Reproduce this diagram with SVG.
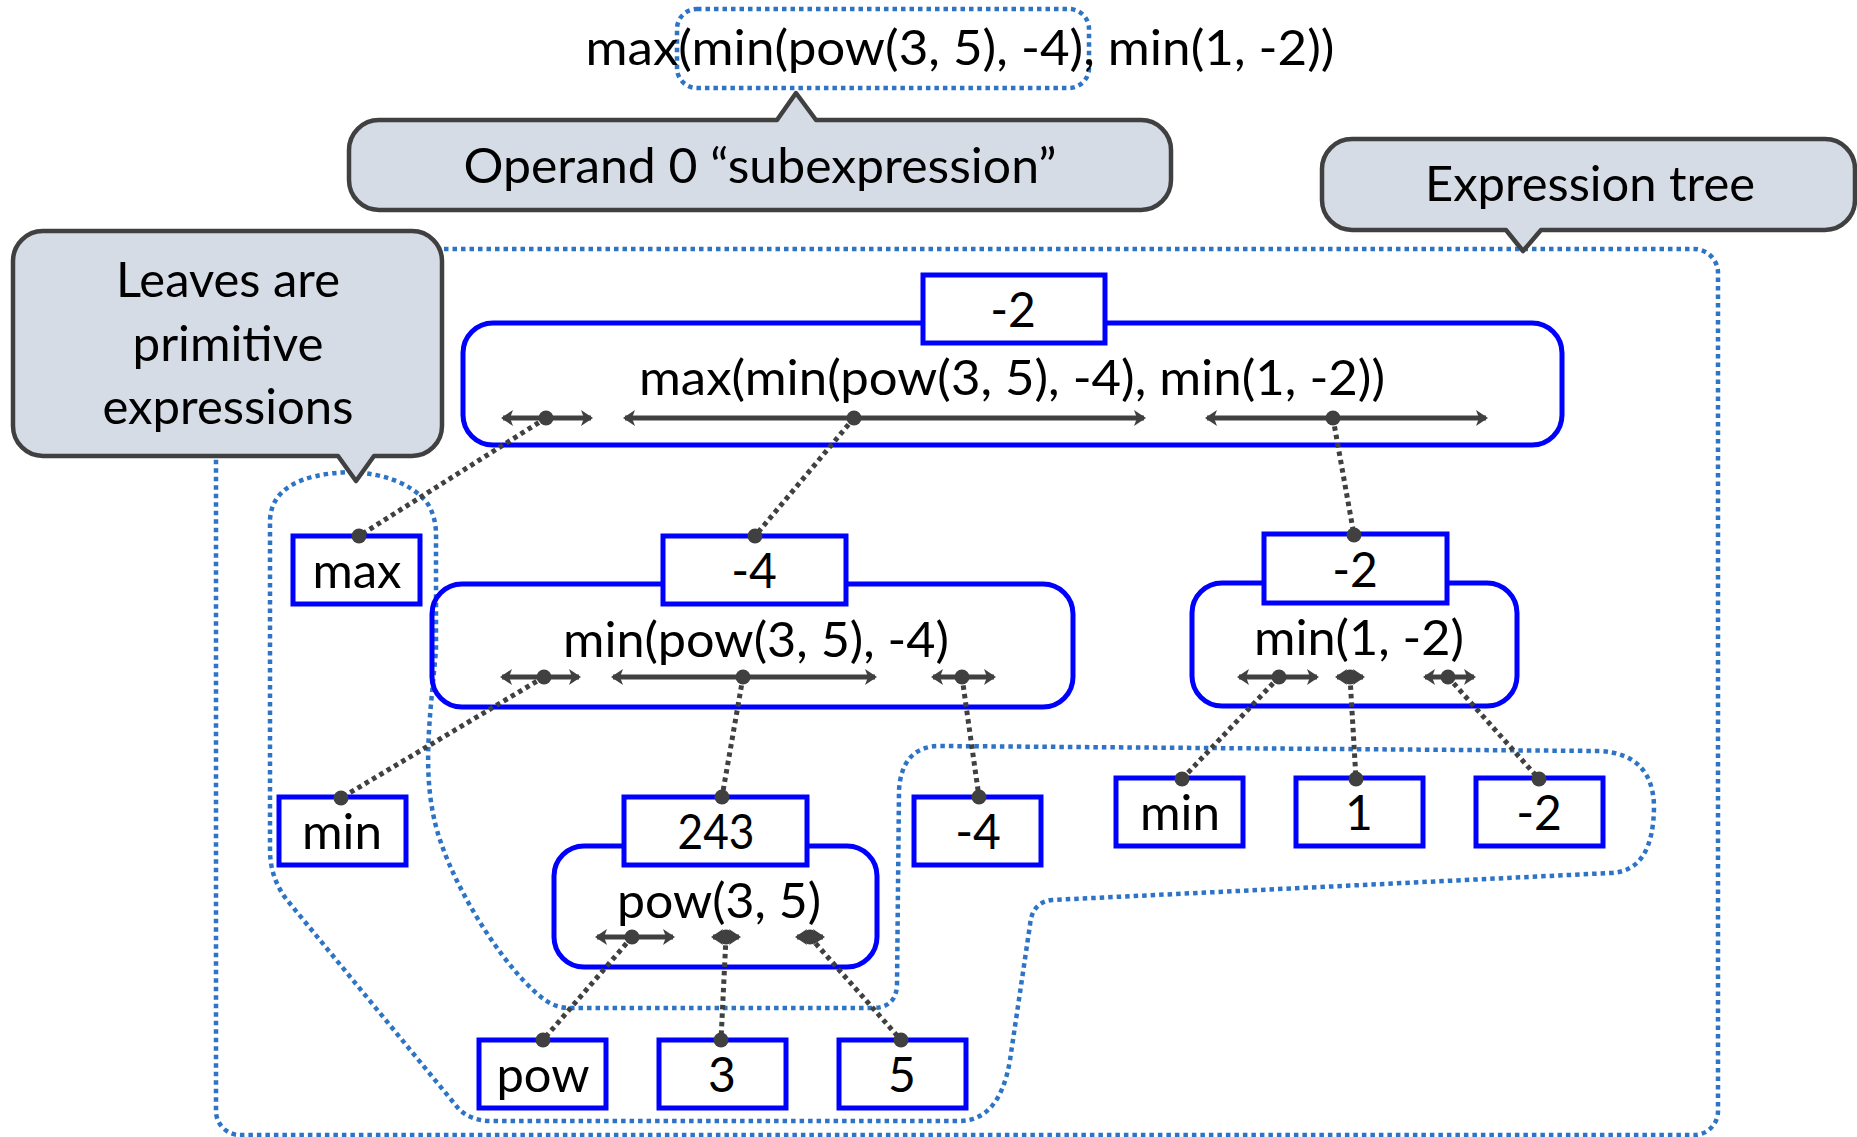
<svg xmlns="http://www.w3.org/2000/svg" width="1857" height="1137" viewBox="0 0 1857 1137">
<defs>
<style>
text { font-family: Lato, "Open Sans", "Liberation Sans", sans-serif; font-size: 48px; fill: #000; text-anchor: middle; }
.region { fill: none; stroke: #2E74C6; stroke-width: 4.5; stroke-dasharray: 4.5 4; }
.callout { fill: #D6DCE5; stroke: #404040; stroke-width: 4.5; stroke-linejoin: round; }
.expr { fill: none; stroke: #0000FF; stroke-width: 5; }
.val { fill: #FFFFFF; stroke: #0000FF; stroke-width: 5; }
.span { stroke: #404040; stroke-width: 5; fill: none; marker-start: url(#ah); marker-end: url(#ah); }
.link { stroke: #404040; stroke-width: 5; stroke-dasharray: 4.5 4; fill: none; }
.dot { fill: #404040; }
</style>
<marker id="ah" viewBox="0 0 12 16" refX="10" refY="8" markerWidth="12" markerHeight="16" markerUnits="userSpaceOnUse" orient="auto-start-reverse">
<path d="M0,0 L12,8 L0,16 L3,8 z" fill="#404040"/>
</marker>
</defs>

<g id="regions">
<rect class="region" x="216" y="249" width="1502" height="886" rx="24"/>
<rect class="region" x="677" y="9" width="412" height="79" rx="20"/>
<path class="region" d="M350,472 Q400,474 425,500 Q437,515 436,540 L436,650 C430,720 420,780 440,840 C460,900 510,975 545,1000 Q556,1008 570,1008 L872,1008 Q896,1008 897,985 L899,790 Q902,746 940,746 L1600,751 Q1652,754 1654,805 Q1654,872 1610,873 L1052,900 Q1032,902 1030,925 L1010,1060 Q1000,1120 960,1121 L492,1121 Q470,1121 458,1108 L287,900 Q270,878 270,850 L270,520 Q272,475 350,472 Z"/>
</g>

<g id="callouts">
<g id="callout-operand">
<path class="callout" d="M379,120 L777,120 L796,93 L816,120 L1141,120 A30,30 0 0 1 1171,150 L1171,180 A30,30 0 0 1 1141,210 L379,210 A30,30 0 0 1 349,180 L349,150 A30,30 0 0 1 379,120 Z"/>
<text x="760" y="183" textLength="593" lengthAdjust="spacingAndGlyphs">Operand 0 “subexpression”</text>
</g>
<g id="callout-tree">
<path class="callout" d="M1352,139 L1825,139 A30,30 0 0 1 1855,169 L1855,200 A30,30 0 0 1 1825,230 L1541,230 L1523,251 L1506,230 L1352,230 A30,30 0 0 1 1322,200 L1322,169 A30,30 0 0 1 1352,139 Z"/>
<text x="1590" y="201" textLength="330" lengthAdjust="spacingAndGlyphs">Expression tree</text>
</g>
<g id="callout-leaves">
<path class="callout" d="M43,231 L412,231 A30,30 0 0 1 442,261 L442,426 A30,30 0 0 1 412,456 L374,456 L356,481 L338,456 L43,456 A30,30 0 0 1 13,426 L13,261 A30,30 0 0 1 43,231 Z"/>
<text x="228" y="297" textLength="224" lengthAdjust="spacingAndGlyphs">Leaves are</text>
<text x="228" y="361" textLength="191" lengthAdjust="spacingAndGlyphs">primitive</text>
<text x="228" y="424" textLength="251" lengthAdjust="spacingAndGlyphs">expressions</text>
</g>
</g>

<g id="expression">
<text x="960" y="65" textLength="749" lengthAdjust="spacingAndGlyphs">max(min(pow(3, 5), -4), min(1, -2))</text>
</g>

<g id="node-root">
<rect class="expr" x="463" y="323" width="1099" height="122" rx="30"/>
<rect class="val" x="923" y="275" width="182" height="68"/>
<text x="1013" y="327">-2</text>
<text x="1012" y="395" textLength="746" lengthAdjust="spacingAndGlyphs">max(min(pow(3, 5), -4), min(1, -2))</text>
<line class="span" x1="503" y1="418" x2="591" y2="418"/>
<line class="span" x1="625" y1="418" x2="1144" y2="418"/>
<line class="span" x1="1207" y1="418" x2="1486" y2="418"/>
</g>

<g id="node-min1">
<rect class="expr" x="432" y="584" width="641" height="123" rx="30"/>
<rect class="val" x="663" y="536" width="183" height="68"/>
<text x="754" y="588">-4</text>
<text x="756" y="657" textLength="386" lengthAdjust="spacingAndGlyphs">min(pow(3, 5), -4)</text>
<line class="span" x1="502" y1="677" x2="579" y2="677"/>
<line class="span" x1="613" y1="677" x2="875" y2="677"/>
<line class="span" x1="933" y1="677" x2="994" y2="677"/>
</g>

<g id="node-min2">
<rect class="expr" x="1192" y="583" width="325" height="123" rx="30"/>
<rect class="val" x="1264" y="534" width="183" height="69"/>
<text x="1355" y="587">-2</text>
<text x="1359" y="655" textLength="210" lengthAdjust="spacingAndGlyphs">min(1, -2)</text>
<line class="span" x1="1239" y1="677" x2="1317" y2="677"/>
<line class="span" x1="1337" y1="677" x2="1363" y2="677"/>
<line class="span" x1="1425" y1="677" x2="1474" y2="677"/>
</g>

<g id="node-pow">
<rect class="expr" x="554" y="846" width="323" height="121" rx="30"/>
<rect class="val" x="624" y="797" width="183" height="68"/>
<text x="716" y="849" textLength="77" lengthAdjust="spacingAndGlyphs">243</text>
<text x="719" y="918" textLength="204" lengthAdjust="spacingAndGlyphs">pow(3, 5)</text>
<line class="span" x1="597" y1="937" x2="673" y2="937"/>
<line class="span" x1="713" y1="937" x2="739" y2="937"/>
<line class="span" x1="797" y1="937" x2="823" y2="937"/>
</g>

<g id="leaf-max"><rect class="val" x="293" y="536" width="127" height="68"/><text x="357" y="588" textLength="89" lengthAdjust="spacingAndGlyphs">max</text></g>
<g id="leaf-min-a"><rect class="val" x="279" y="797" width="127" height="68"/><text x="342" y="849" textLength="80" lengthAdjust="spacingAndGlyphs">min</text></g>
<g id="leaf-neg4"><rect class="val" x="914" y="797" width="127" height="68"/><text x="978" y="849">-4</text></g>
<g id="leaf-min-b"><rect class="val" x="1116" y="778" width="127" height="68"/><text x="1180" y="830" textLength="80" lengthAdjust="spacingAndGlyphs">min</text></g>
<g id="leaf-1"><rect class="val" x="1296" y="778" width="127" height="68"/><text x="1359" y="830">1</text></g>
<g id="leaf-neg2"><rect class="val" x="1476" y="778" width="127" height="68"/><text x="1539" y="830">-2</text></g>
<g id="leaf-pow"><rect class="val" x="479" y="1040" width="127" height="68"/><text x="543" y="1092" textLength="93" lengthAdjust="spacingAndGlyphs">pow</text></g>
<g id="leaf-3"><rect class="val" x="659" y="1040" width="127" height="68"/><text x="722" y="1092">3</text></g>
<g id="leaf-5"><rect class="val" x="839" y="1040" width="127" height="68"/><text x="902" y="1092">5</text></g>

<g id="connectors">
<line class="link" x1="546" y1="418" x2="359" y2="536"/>
<line class="link" x1="854" y1="418" x2="755" y2="536"/>
<line class="link" x1="1333" y1="418" x2="1354" y2="535"/>
<line class="link" x1="544" y1="677" x2="341" y2="798"/>
<line class="link" x1="743" y1="677" x2="722" y2="797"/>
<line class="link" x1="962" y1="677" x2="979" y2="797"/>
<line class="link" x1="1279" y1="677" x2="1182" y2="779"/>
<line class="link" x1="1350" y1="677" x2="1356" y2="779"/>
<line class="link" x1="1448" y1="677" x2="1539" y2="779"/>
<line class="link" x1="632" y1="937" x2="543" y2="1040"/>
<line class="link" x1="726" y1="937" x2="721" y2="1040"/>
<line class="link" x1="810" y1="937" x2="901" y2="1040"/>
<circle class="dot" cx="546" cy="418" r="7.5"/>
<circle class="dot" cx="854" cy="418" r="7.5"/>
<circle class="dot" cx="1333" cy="418" r="7.5"/>
<circle class="dot" cx="359" cy="536" r="7.5"/>
<circle class="dot" cx="755" cy="536" r="7.5"/>
<circle class="dot" cx="1354" cy="535" r="7.5"/>
<circle class="dot" cx="544" cy="677" r="7.5"/>
<circle class="dot" cx="743" cy="677" r="7.5"/>
<circle class="dot" cx="962" cy="677" r="7.5"/>
<circle class="dot" cx="341" cy="798" r="7.5"/>
<circle class="dot" cx="722" cy="797" r="7.5"/>
<circle class="dot" cx="979" cy="797" r="7.5"/>
<circle class="dot" cx="1279" cy="677" r="7.5"/>
<circle class="dot" cx="1350" cy="677" r="7.5"/>
<circle class="dot" cx="1448" cy="677" r="7.5"/>
<circle class="dot" cx="1182" cy="779" r="7.5"/>
<circle class="dot" cx="1356" cy="779" r="7.5"/>
<circle class="dot" cx="1539" cy="779" r="7.5"/>
<circle class="dot" cx="632" cy="937" r="7.5"/>
<circle class="dot" cx="726" cy="937" r="7.5"/>
<circle class="dot" cx="810" cy="937" r="7.5"/>
<circle class="dot" cx="543" cy="1040" r="7.5"/>
<circle class="dot" cx="721" cy="1040" r="7.5"/>
<circle class="dot" cx="901" cy="1040" r="7.5"/>
</g>
</svg>
